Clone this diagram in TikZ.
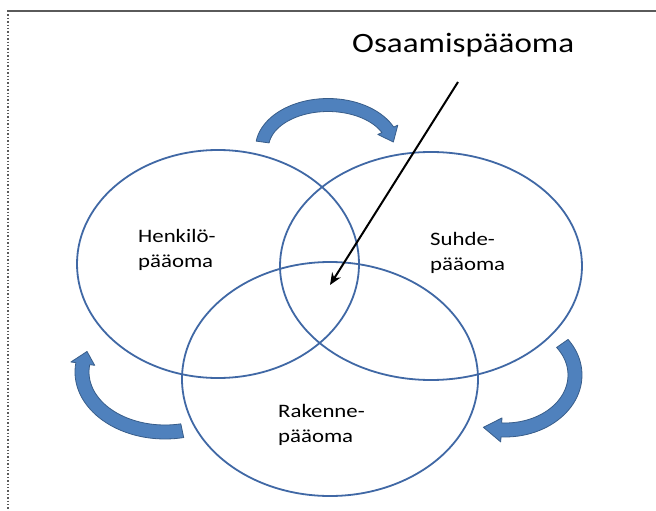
\documentclass[tikz,border=0pt]{standalone}
\usepackage{fontspec}
\setmainfont{Carlito}
\newfontfamily\lblfont[FakeStretch=1.2]{Carlito}
\newfontfamily\ttlfont[FakeStretch=1.18]{Carlito}
\usetikzlibrary{arrows.meta}
\definecolor{ringblue}{RGB}{64,104,165}
\definecolor{arrowfill}{RGB}{79,129,189}
\definecolor{arrowedge}{RGB}{56,93,138}
\definecolor{framegray}{RGB}{90,90,90}

% curved block arrow along an elliptical arc
% #1,#2 centre  #3,#4 radii  #5 band width  #6 head width
% #7 start angle  #8 head base angle  #9 tip angle
\newcommand\curvedblock[9]{%
  \filldraw[blockarrow]
    plot[domain=#7:#8,samples=40] ({#1+(#3+#5/2)*cos(\x)},{#2+(#4+#5/2)*sin(\x)})
    -- ({#1+(#3+#6/2)*cos(#8)},{#2+(#4+#6/2)*sin(#8)})
    -- ({#1+#3*cos(#9)},{#2+#4*sin(#9)})
    -- ({#1+(#3-#6/2)*cos(#8)},{#2+(#4-#6/2)*sin(#8)})
    -- plot[domain=#8:#7,samples=40] ({#1+(#3-#5/2)*cos(\x)},{#2+(#4-#5/2)*sin(\x)})
    -- cycle;}

\tikzset{
  ring/.style={draw=ringblue, line width=1.8pt},
  blockarrow/.style={fill=arrowfill, draw=arrowedge, line width=0.8pt, line join=round},
  lbl/.style={font=\lblfont\fontsize{19}{25}\selectfont, align=left, inner sep=0pt},
  pointer/.style={black, line width=2pt, -{Stealth[length=12pt,width=10pt]}}
}

\begin{document}
\begin{tikzpicture}[x=1pt, y=-1pt]
  \useasboundingbox (0,0) rectangle (656,511);
  \fill[white] (0,0) rectangle (656,511);

  % page frame
  \draw[framegray, line width=1.2pt] (7,11) -- (656,11);
  \draw[framegray, line width=1.4pt, dotted] (8,11) -- (8,511);

  % three overlapping capitals
  \draw[ring] (218,264) ellipse [x radius=141, y radius=114];
  \draw[ring] (431,266) ellipse [x radius=151, y radius=114];
  \draw[ring] (330,379) ellipse [x radius=148, y radius=117];

  % circulation arrows
  \curvedblock{328}{148}{66}{43}{13}{22}{188}{335}{352}
  \curvedblock{165}{372}{83}{60}{14}{24}{78}{188}{200}
  \curvedblock{505}{375}{70}{55}{14}{24}{-35}{93}{108}

  % labels (anchored at the baseline of their last line)
  \node[lbl, anchor=base west] (henk) at (138,267) {Henkilö-\\pääoma};
  \node[lbl, anchor=base west] (suhde) at (430,270) {Suhde-\\pääoma};
  \node[lbl, anchor=base west] (rak) at (278,442) {Rakenne-\\pääoma};
  \node[font=\ttlfont\fontsize{28}{32}\selectfont, inner sep=0pt, anchor=base west] (osaa) at (352,53) {Osaamispääoma};

  % pointer to the common core
  \coordinate (from) at (458,82);
  \coordinate (core) at (330,285);
  \draw[pointer] (from) -- (core);
\end{tikzpicture}
\end{document}
